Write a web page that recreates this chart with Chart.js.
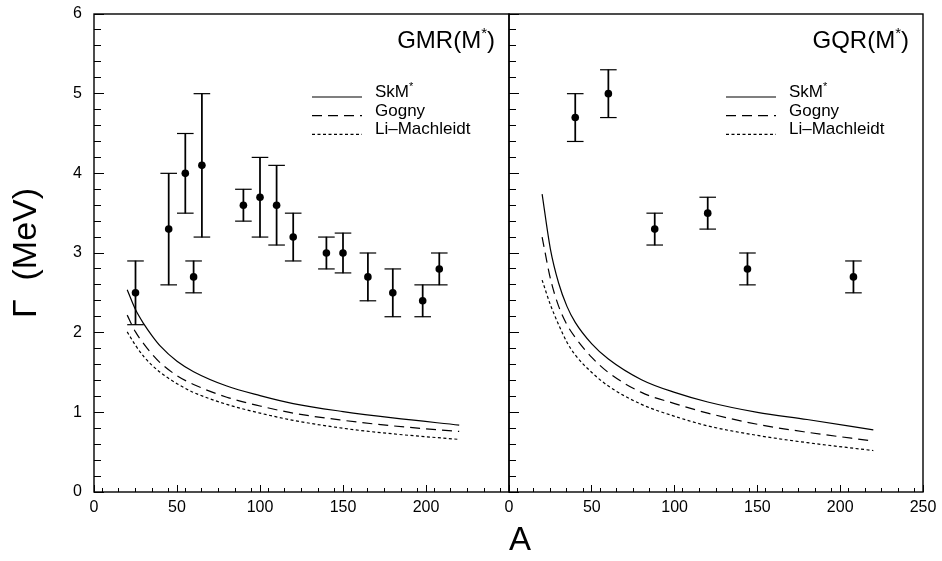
<!DOCTYPE html>
<html>
<head>
<meta charset="utf-8">
<script src="https://cdn.jsdelivr.net/npm/chart.js@4.4.0/dist/chart.umd.min.js"></script>
<style>
  body { margin: 0; background: #fff; }
  #wrap { position: relative; width: 942px; height: 561px; }
  #wrap canvas { position: absolute; top: 0; }
</style>
</head>
<body>
<div id="wrap">
  <canvas id="gmr" width="540" height="561" style="left:0px"></canvas>
  <canvas id="gqr" width="444" height="561" style="left:498px"></canvas>
</div>
<script>
// ---- data ----
// GMR experimental widths
var gmrA  = [25, 45, 55, 60, 65, 90, 100, 110, 120, 140, 150, 165, 180, 198, 208];
var gmrW  = [2.5, 3.3, 4.0, 2.7, 4.1, 3.6, 3.7, 3.6, 3.2, 3.0, 3.0, 2.7, 2.5, 2.4, 2.8];
var gmrLo = [2.1, 2.6, 3.5, 2.5, 3.2, 3.4, 3.2, 3.1, 2.9, 2.8, 2.75, 2.4, 2.2, 2.2, 2.6];
var gmrHi = [2.9, 4.0, 4.5, 2.9, 5.0, 3.8, 4.2, 4.1, 3.5, 3.2, 3.25, 3.0, 2.8, 2.6, 3.0];

// GQR experimental widths
var gqrA  = [40, 60, 88, 120, 144, 208];
var gqrW  = [4.7, 5.0, 3.3, 3.5, 2.8, 2.7];
var gqrLo = [4.4, 4.7, 3.1, 3.3, 2.6, 2.5];
var gqrHi = [5.0, 5.3, 3.5, 3.7, 3.0, 2.9];

// theory curves, A where they were read
var curveA   = [20, 25, 30, 35, 40, 50, 60, 80, 100, 120, 150, 180, 220];
var gmrSkm   = [2.54, 2.29, 2.11, 1.96, 1.83, 1.64, 1.51, 1.33, 1.21, 1.11, 1.01, 0.93, 0.84];
var gmrGogny = [2.22, 2.01, 1.86, 1.73, 1.62, 1.46, 1.35, 1.19, 1.08, 0.99, 0.90, 0.83, 0.76];
var gmrLiM   = [2.01, 1.84, 1.70, 1.59, 1.50, 1.36, 1.25, 1.10, 0.99, 0.90, 0.80, 0.73, 0.66];
var gqrSkm   = [3.74, 3.05, 2.62, 2.33, 2.13, 1.86, 1.67, 1.41, 1.25, 1.13, 1.00, 0.91, 0.78];
var gqrGogny = [3.20, 2.68, 2.33, 2.10, 1.94, 1.69, 1.50, 1.25, 1.11, 0.99, 0.85, 0.75, 0.64];
var gqrLiM   = [2.66, 2.35, 2.10, 1.88, 1.72, 1.50, 1.33, 1.10, 0.95, 0.83, 0.71, 0.62, 0.52];

var curveNames = ['SkM*', 'Gogny', 'Li\u2013Machleidt'];
var xTicksMajor = [0, 50, 100, 150, 200, 250];
var yTicksMajor = [0, 1, 2, 3, 4, 5, 6];

var FONT = "'Liberation Sans', Arial, sans-serif";
Chart.defaults.font.family = FONT;
Chart.defaults.color = '#000';

var dashes = [[], [10, 6], [3, 2.5]];

// text with a superscript star, e.g. "SkM*" or "GMR(M*)"
function drawStarred(ctx, text, x, y, size, align) {
    var k = text.indexOf('*');
    var a = k < 0 ? text : text.slice(0, k);
    var b = k < 0 ? '' : text.slice(k + 1);
    var small = Math.round(size * 0.62);
    ctx.font = size + 'px ' + FONT;
    var wa = ctx.measureText(a).width, wb = ctx.measureText(b).width;
    ctx.font = small + 'px ' + FONT;
    var ws = k < 0 ? 0 : ctx.measureText('*').width;
    var x0 = align === 'right' ? x - (wa + ws + wb) : x;
    ctx.textAlign = 'left';
    ctx.textBaseline = 'alphabetic';
    ctx.font = size + 'px ' + FONT;
    ctx.fillText(a, x0, y);
    if (k >= 0) {
        ctx.font = small + 'px ' + FONT;
        ctx.fillText('*', x0 + wa, y - size * 0.42);
        ctx.font = size + 'px ' + FONT;
        ctx.fillText(b, x0 + wa + ws, y);
    }
}

var framePlugin = {
    id: 'frame',
    afterDatasetsDraw: function(chart) {
        var a = chart.chartArea, ctx = chart.ctx;
        ctx.save();
        ctx.strokeStyle = '#000';
        ctx.lineWidth = 1.4;
        ctx.strokeRect(a.left, a.top, a.right - a.left, a.bottom - a.top);
        ctx.restore();
    }
};

var panelText = {
    id: 'panelText',
    afterDraw: function(chart, args, opts) {
        var ctx = chart.ctx, a = chart.chartArea;
        ctx.save();
        ctx.fillStyle = '#000';
        drawStarred(ctx, opts.title, a.right - 14, a.top + 34, 24, 'right');
        chart.data.datasets.forEach(function(ds) {
            if (ds.legendRow === undefined) return;
            var y = a.top + 83 + ds.legendRow * 18.7;
            ctx.strokeStyle = '#000';
            ctx.lineWidth = 1.2;
            ctx.setLineDash(ds.borderDash || []);
            ctx.beginPath();
            ctx.moveTo(a.right - 197, y);
            ctx.lineTo(a.right - 147, y);
            ctx.stroke();
            ctx.setLineDash([]);
            drawStarred(ctx, ds.label, a.right - 134, y, 17, 'left');
        });
        ctx.restore();
    }
};

// the label paddings would otherwise push the plot area inwards
function noPad(s) {
    s.paddingTop = 0; s.paddingBottom = 0; s.paddingLeft = 0; s.paddingRight = 0;
}

function makeScales(isLeft) {
    return {
        x: {
            type: 'linear', axis: 'x', position: 'bottom', min: 0, max: 250, weight: 1, offset: false,
            border: { display: false },
            grid: { drawOnChartArea: false, drawTicks: true, tickLength: -4, color: '#000', tickColor: '#000', tickWidth: 1 },
            ticks: {
                stepSize: 10, autoSkip: false, maxRotation: 0, minRotation: 0, padding: 10,
                color: '#000', font: { size: 16 },
                callback: function(v) {
                    if (xTicksMajor.indexOf(v) < 0) return '';
                    if (isLeft && v === 250) return '';
                    return String(v);
                }
            },
            title: isLeft ? { display: false } : {
                display: true, text: 'A', align: 'start', color: '#000',
                font: { size: 33 }, padding: { top: 0, bottom: 0 }
            },
            afterFit: function(s) { s.height = 69; noPad(s); }
        },
        xMaj: {
            type: 'linear', axis: 'x', position: 'bottom', min: 0, max: 250, weight: 0, offset: false,
            border: { display: false },
            grid: { drawOnChartArea: false, drawTicks: true, tickLength: -7, color: '#000', tickColor: '#000', tickWidth: 1 },
            ticks: { stepSize: 50, display: false, autoSkip: false },
            afterFit: function(s) { s.height = 0; noPad(s); }
        },
        y: {
            type: 'linear', axis: 'y', position: 'left', min: 0, max: 6, weight: 1,
            border: { display: false },
            grid: { drawOnChartArea: false, drawTicks: true, tickLength: -7, color: '#000', tickColor: '#000', tickWidth: 1 },
            ticks: {
                display: isLeft, stepSize: 0.2, autoSkip: false, padding: 19,
                color: '#000', font: { size: 16 },
                callback: function(v) {
                    var r = Math.round(v);
                    if (Math.abs(v - r) > 1e-6 || yTicksMajor.indexOf(r) < 0) return '';
                    return String(r);
                }
            },
            title: isLeft ? {
                display: true, text: '\u0393  (MeV)', color: '#000',
                font: { size: 34 }, padding: { top: 6, bottom: 0 }
            } : { display: false },
            afterFit: function(s) { s.width = isLeft ? 94 : 11; noPad(s); }
        },
        yMaj: {
            type: 'linear', axis: 'y', position: 'left', min: 0, max: 6, weight: 0,
            border: { display: false },
            grid: { drawOnChartArea: false, drawTicks: true, tickLength: -10, color: '#000', tickColor: '#000', tickWidth: 1 },
            ticks: { stepSize: 1, display: false, autoSkip: false },
            afterFit: function(s) { s.width = 0; noPad(s); }
        }
    };
}

function makeDatasets(A, W, lo, hi, curves) {
    var sets = [];
    curves.forEach(function(c, i) {
        sets.push({
            type: 'line', label: curveNames[i], legendRow: i,
            data: curveA.map(function(a, j) { return { x: a, y: c[j] }; }),
            borderColor: '#000', borderWidth: 1.2, borderDash: dashes[i],
            pointRadius: 0, fill: false, cubicInterpolationMode: 'monotone',
            xAxisID: 'x', yAxisID: 'y'
        });
    });
    // points
    sets.push({
        type: 'scatter', label: 'data',
        data: A.map(function(a, i) { return { x: a, y: W[i] }; }),
        pointStyle: 'circle', pointRadius: 3.8, backgroundColor: '#000', borderWidth: 0,
        xAxisID: 'x', yAxisID: 'y'
    });
    // error bar stems
    sets.push({
        type: 'bar', label: 'err',
        data: A.map(function(a, i) { return { x: a, y: [lo[i], hi[i]] }; }),
        backgroundColor: '#000', borderWidth: 0, barThickness: 1.1,
        xAxisID: 'x', yAxisID: 'y'
    });
    // error bar caps
    var caps = [];
    A.forEach(function(a, i) {
        caps.push({ x: a, y: lo[i] });
        caps.push({ x: a, y: hi[i] });
    });
    sets.push({
        type: 'scatter', label: 'caps', data: caps,
        pointStyle: 'line', pointRadius: 8.3, borderColor: '#000', borderWidth: 1.2,
        xAxisID: 'x', yAxisID: 'y'
    });
    return sets;
}

function panel(id, isLeft, title, datasets) {
    var ctx = document.getElementById(id).getContext('2d');
    return new Chart(ctx, {
        type: 'scatter',
        data: { datasets: datasets },
        options: {
            responsive: false,
            animation: false,
            events: [],
            layout: { padding: { top: 14, bottom: 0, left: 0, right: isLeft ? 31 : 19 } },
            scales: makeScales(isLeft),
            plugins: {
                legend: { display: false },
                tooltip: { enabled: false },
                panelText: { title: title }
            }
        },
        plugins: [framePlugin, panelText]
    });
}

panel('gmr', true, 'GMR(M*)', makeDatasets(gmrA, gmrW, gmrLo, gmrHi, [gmrSkm, gmrGogny, gmrLiM]));
panel('gqr', false, 'GQR(M*)', makeDatasets(gqrA, gqrW, gqrLo, gqrHi, [gqrSkm, gqrGogny, gqrLiM]));
</script>
</body>
</html>
